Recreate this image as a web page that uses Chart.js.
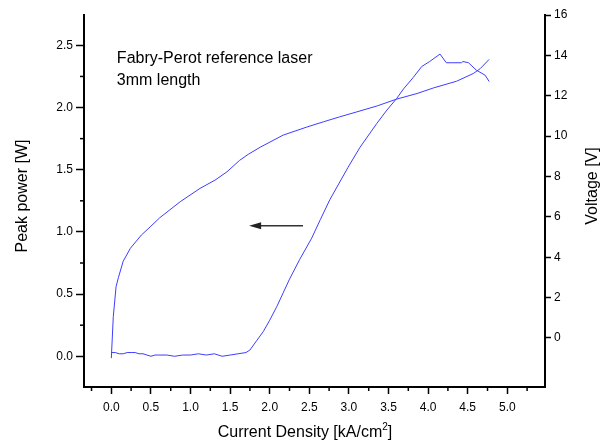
<!DOCTYPE html>
<html lang="en">
<head>
    <meta charset="UTF-8">
    <title>Fabry-Perot reference laser</title>
    <script src="https://cdn.jsdelivr.net/npm/chart.js"></script>
    <style>
        body { margin: 0; background: #fff; }
        #chart { display: block; }
    </style>
</head>
<body>
    <canvas id="chart" width="605" height="444"></canvas>

    <script>
        // Peak power (left axis) vs current density
        const powerJ = [0, 0.05, 0.1, 0.15, 0.2, 0.25, 0.3, 0.35, 0.4, 0.45, 0.5, 0.55, 0.6, 0.7, 0.8, 0.9, 1.0,
            1.1, 1.2, 1.3, 1.4, 1.5, 1.6, 1.7, 1.75, 1.84, 1.92, 2.0, 2.09, 2.17, 2.25, 2.38, 2.53, 2.64, 2.76,
            2.99, 3.14, 3.35, 3.48, 3.6, 3.69, 3.81, 3.92, 4.02, 4.15, 4.23, 4.3, 4.42, 4.44, 4.51, 4.61, 4.72, 4.77];
        const powerW = [0.03, 0.03, 0.02, 0.02, 0.03, 0.03, 0.03, 0.02, 0.02, 0.01, 0.0, 0.01, 0.01, 0.01, 0.0, 0.01, 0.01,
            0.02, 0.01, 0.02, 0.0, 0.01, 0.02, 0.03, 0.05, 0.13, 0.2, 0.29, 0.4, 0.51, 0.62, 0.78, 0.95, 1.1, 1.26,
            1.52, 1.68, 1.87, 1.98, 2.07, 2.15, 2.24, 2.33, 2.37, 2.43, 2.36, 2.36, 2.36, 2.37, 2.36, 2.3, 2.26, 2.21];

        // Voltage (right axis) vs current density
        const voltJ = [0, 0.025, 0.06, 0.09, 0.15, 0.24, 0.38, 0.49, 0.61, 0.74, 0.87, 1.12, 1.31, 1.46, 1.62, 1.73,
            1.88, 2.17, 2.47, 2.68, 2.88, 3.1, 3.36, 3.6, 3.86, 4.07, 4.36, 4.57, 4.66, 4.77];
        const voltV = [-1.0, 1.07, 2.54, 3.0, 3.8, 4.44, 5.1, 5.5, 5.95, 6.35, 6.75, 7.41, 7.82, 8.23, 8.8, 9.1,
            9.45, 10.05, 10.45, 10.71, 10.95, 11.2, 11.5, 11.83, 12.11, 12.39, 12.72, 13.1, 13.35, 13.8];

        // axis ticks
        const xTicks = [-0.25, 0, 0.25, 0.5, 0.75, 1, 1.25, 1.5, 1.75, 2, 2.25, 2.5, 2.75, 3, 3.25, 3.5, 3.75, 4, 4.25, 4.5, 4.75, 5, 5.25];
        const powerTicks = [0, 0.25, 0.5, 0.75, 1, 1.25, 1.5, 1.75, 2, 2.25, 2.5];
        const voltTicks = [0, 2, 4, 6, 8, 10, 12, 14, 16];

        const labels = ['Fabry-Perot reference laser', '3mm length'];
        const arrowFrom = { x: 2.42, y: 1.05 };
        const arrowTo = { x: 1.74, y: 1.05 };

        const FONT = '"Liberation Sans", Arial, sans-serif';
        const BLUE = '#3d3dff';

        function isMajor(v) {
            return Math.abs(v * 2 - Math.round(v * 2)) < 1e-6;
        }

        function toPoints(xs, ys) {
            return xs.map((x, i) => ({ x: x, y: ys[i] }));
        }

        // minor ticks, axis titles, annotation and arrow
        const extras = {
            id: 'extras',
            afterDraw(chart) {
                const ctx = chart.ctx;
                const a = chart.chartArea;
                const sx = chart.scales.x, sy = chart.scales.y;
                ctx.save();

                ctx.strokeStyle = '#000';
                ctx.lineWidth = 1.5;
                xTicks.filter(v => !isMajor(v)).forEach(v => {
                    const px = sx.getPixelForValue(v);
                    ctx.beginPath(); ctx.moveTo(px, a.bottom); ctx.lineTo(px, a.bottom + 4); ctx.stroke();
                });
                powerTicks.filter(v => !isMajor(v)).forEach(v => {
                    const py = sy.getPixelForValue(v);
                    ctx.beginPath(); ctx.moveTo(a.left - 4, py); ctx.lineTo(a.left, py); ctx.stroke();
                });

                ctx.fillStyle = '#000';
                ctx.textBaseline = 'middle';

                // x title with superscript
                const t1 = 'Current Density [kA/cm', t2 = ']';
                ctx.font = '16px ' + FONT;
                const w1 = ctx.measureText(t1).width;
                ctx.font = '10px ' + FONT;
                const ws = ctx.measureText('2').width;
                ctx.font = '16px ' + FONT;
                const w2 = ctx.measureText(t2).width;
                const x0 = 305 - (w1 + ws + w2) / 2;
                ctx.textAlign = 'left';
                ctx.fillText(t1, x0, 433);
                ctx.font = '10px ' + FONT;
                ctx.fillText('2', x0 + w1, 427);
                ctx.font = '16px ' + FONT;
                ctx.fillText(t2, x0 + w1 + ws, 433);

                ctx.textAlign = 'center';
                ctx.save();
                ctx.translate(23, 196);
                ctx.rotate(-Math.PI / 2);
                ctx.fillText('Peak power [W]', 0, 0);
                ctx.restore();

                ctx.save();
                ctx.translate(593, 186);
                ctx.rotate(-Math.PI / 2);
                ctx.fillText('Voltage [V]', 0, 0);
                ctx.restore();

                // annotation
                ctx.textAlign = 'left';
                ctx.textBaseline = 'alphabetic';
                ctx.fillText(labels[0], sx.getPixelForValue(0.07), sy.getPixelForValue(2.36));
                ctx.fillText(labels[1], sx.getPixelForValue(0.07), sy.getPixelForValue(2.18));

                // arrow
                const fx = sx.getPixelForValue(arrowFrom.x), fy = sy.getPixelForValue(arrowFrom.y);
                const tx = sx.getPixelForValue(arrowTo.x), ty = sy.getPixelForValue(arrowTo.y);
                ctx.strokeStyle = '#333';
                ctx.lineWidth = 1.5;
                ctx.beginPath(); ctx.moveTo(fx, fy); ctx.lineTo(tx + 8, ty); ctx.stroke();
                ctx.fillStyle = '#222';
                ctx.beginPath();
                ctx.moveTo(tx, ty);
                ctx.lineTo(tx + 12, ty - 3.5);
                ctx.lineTo(tx + 12, ty + 3.5);
                ctx.closePath();
                ctx.fill();

                ctx.restore();
            }
        };

        new Chart(document.getElementById('chart'), {
            type: 'scatter',
            data: {
                datasets: [
                    {
                        label: 'Peak power',
                        data: toPoints(powerJ, powerW),
                        yAxisID: 'y',
                        showLine: true,
                        borderColor: BLUE,
                        borderWidth: 1,
                        pointRadius: 0,
                        tension: 0
                    },
                    {
                        label: 'Voltage',
                        data: toPoints(voltJ, voltV),
                        yAxisID: 'y2',
                        showLine: true,
                        borderColor: BLUE,
                        borderWidth: 1,
                        pointRadius: 0,
                        tension: 0
                    }
                ]
            },
            options: {
                responsive: false,
                animation: false,
                layout: { padding: { top: 15, left: 0, right: 0, bottom: 0 } },
                plugins: {
                    legend: { display: false },
                    tooltip: { enabled: false }
                },
                scales: {
                    x: {
                        type: 'linear',
                        position: 'bottom',
                        min: -0.345,
                        max: 5.476,
                        afterBuildTicks: s => { s.ticks = xTicks.map(v => ({ value: v })); },
                        afterFit: s => { s.height = 57; },
                        border: { display: true, color: '#000', width: 2 },
                        grid: {
                            drawOnChartArea: false,
                            tickLength: 7,
                            tickWidth: 1.5,
                            tickColor: c => isMajor(c.tick.value) ? '#000' : 'rgba(0,0,0,0)'
                        },
                        ticks: {
                            autoSkip: false,
                            maxRotation: 0,
                            padding: 6,
                            color: '#000',
                            font: { family: FONT, size: 12 },
                            callback: v => (isMajor(v) && v >= 0 && v <= 5) ? v.toFixed(1) : ''
                        }
                    },
                    y: {
                        type: 'linear',
                        position: 'left',
                        min: -0.247,
                        max: 2.744,
                        afterBuildTicks: s => { s.ticks = powerTicks.map(v => ({ value: v })); },
                        afterFit: s => { s.width = 84; },
                        border: { display: true, color: '#000', width: 2 },
                        grid: {
                            drawOnChartArea: false,
                            tickLength: 8,
                            tickWidth: 1.5,
                            tickColor: c => isMajor(c.tick.value) ? '#000' : 'rgba(0,0,0,0)'
                        },
                        ticks: {
                            autoSkip: false,
                            padding: 3,
                            color: '#000',
                            font: { family: FONT, size: 12 },
                            callback: v => isMajor(v) ? v.toFixed(1) : ''
                        }
                    },
                    y2: {
                        type: 'linear',
                        position: 'right',
                        min: -2.43,
                        max: 16,
                        afterBuildTicks: s => { s.ticks = voltTicks.map(v => ({ value: v })); },
                        afterFit: s => { s.width = 60; },
                        border: { display: true, color: '#000', width: 2 },
                        grid: {
                            drawOnChartArea: false,
                            tickLength: 6,
                            tickWidth: 1.5,
                            tickColor: '#000'
                        },
                        ticks: {
                            autoSkip: false,
                            padding: 3,
                            color: '#000',
                            font: { family: FONT, size: 12 },
                            callback: v => String(v)
                        }
                    }
                }
            },
            plugins: [extras]
        });
    </script>
</body>
</html>
